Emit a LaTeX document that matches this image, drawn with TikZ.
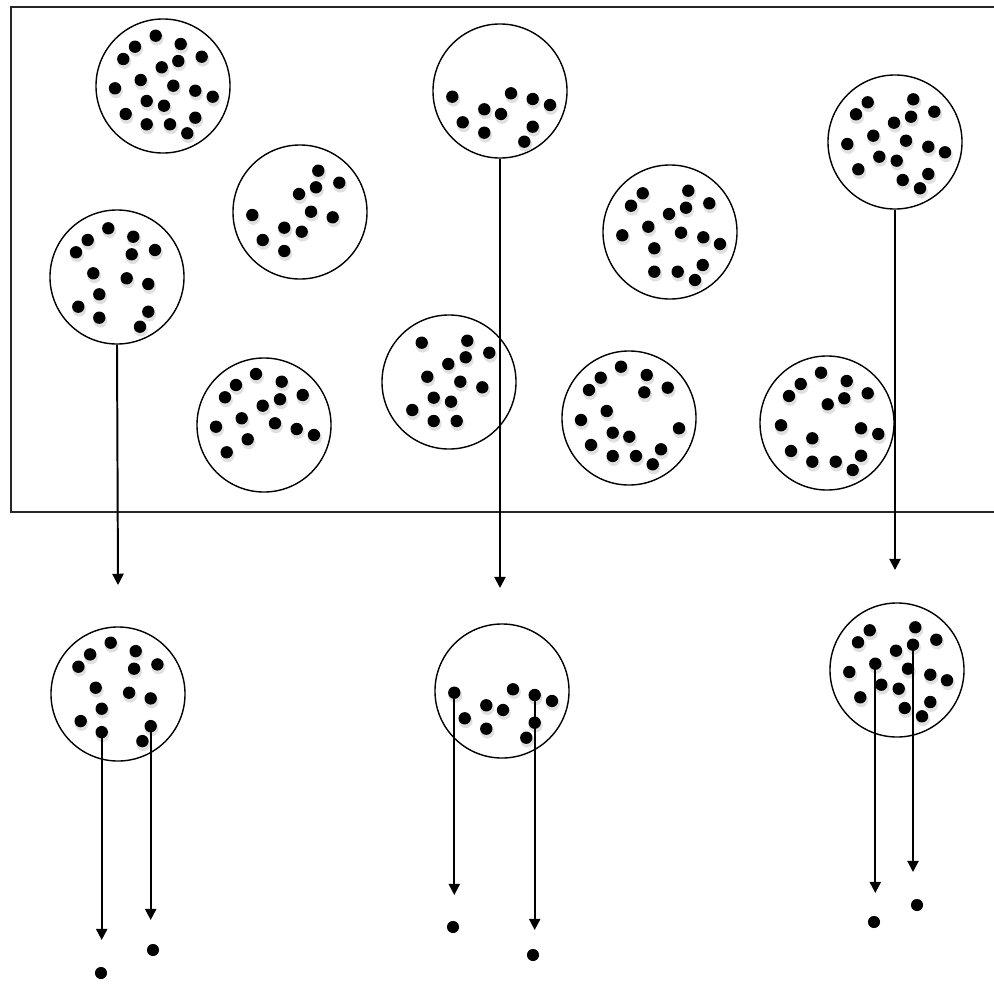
\documentclass[tikz,border=0pt]{standalone}
\usepackage{tikz}
\usetikzlibrary{positioning,arrows.meta,calc}

\begin{document}
\begin{tikzpicture}[
    x=0.025cm, y=-0.025cm,
    >={Triangle[length=8pt,width=8pt]},
    frame/.style = {draw=black!85, line width=1pt},
    blob/.style  = {circle, draw=black, line width=1pt, minimum size=3.35cm,
                    inner sep=0pt},
    dot/.style   = {fill=black},
    shade/.style = {fill=black!12},
    lone/.style  = {circle, fill=black, minimum size=8.6pt, inner sep=0pt},
    arr/.style   = {->, line width=1.4pt, draw=black},
]
\useasboundingbox (0,0) rectangle (994,986);

% =============================== the whole population ========================
\draw[frame] (1000,7) -- (11,7) -- (11,512) -- (1000,512);

\node[blob] (c1)  at (163,86)   {};
\node[blob] (c2)  at (300,212)  {};
\node[blob] (c3)  at (117,277)  {};
\node[blob] (c4)  at (264,425)  {};
\node[blob] (c5)  at (500,91)   {};
\node[blob] (c6)  at (449,382)  {};
\node[blob] (c7)  at (670,232)  {};
\node[blob] (c8)  at (629,418)  {};
\node[blob] (c9)  at (895,142)  {};
\node[blob] (c10) at (827,423)  {};

% members of each cluster
\foreach \x/\y in {155.7/35.7, 135/46.7, 180.7/44, 123.3/59, 178.3/61, 201.7/56.7,
                   161.7/67.3, 140.7/80, 115/88.3, 173.3/85.7, 195.3/90.7, 212.7/96.7,
                   146.7/101, 164/105.7, 125.7/114, 146.7/124.3, 170/124.3,
                   195.3/117.7, 187.3/133.3} {
    \fill[shade] (\x+1,\y+3) circle (4.9pt);
    \fill[dot] (\x,\y) circle (4.4pt);
}
\foreach \x/\y in {318.3/170.7, 339.3/182.7, 299/194, 316/187.3, 252.3/215,
                   311/211.7, 332.7/217.3, 284.3/227.7, 301.7/231.7, 262.7/240,
                   284.3/251} {
    \fill[shade] (\x+1,\y+3) circle (4.9pt);
    \fill[dot] (\x,\y) circle (4.4pt);
}
\foreach \x/\y in {108.3/228.3, 87.7/240, 133.3/236.7, 76/252.3, 131.7/254.3,
                   155/250, 93.3/273.3, 126.7/278.3, 148.3/284, 99.3/294.3,
                   78.3/306.7, 99.3/317.7, 148.3/311.7, 140/326.7} {
    \fill[shade] (\x+1,\y+3) circle (4.9pt);
    \fill[dot] (\x,\y) circle (4.4pt);
}
\foreach \x/\y in {256/374, 236/385, 281.7/381.7, 225/397.3, 280/399.3, 302.7/395,
                   262.7/405.7, 241.7/418.3, 216/426.7, 275/423.3, 296.7/429,
                   314/435, 247.7/439.3, 226.7/452.3} {
    \fill[shade] (\x+1,\y+3) circle (4.9pt);
    \fill[dot] (\x,\y) circle (4.4pt);
}
\foreach \x/\y in {452.3/96.7, 511/93.3, 532.7/99, 550/105, 484.3/109.3, 501/114,
                   462.7/122.3, 532.7/126.7, 484.3/132.7, 524.3/141.7} {
    \fill[shade] (\x+1,\y+3) circle (4.9pt);
    \fill[dot] (\x,\y) circle (4.4pt);
}
\foreach \x/\y in {421.7/342.7, 467.3/340.7, 489.3/352.7, 448.3/364, 465.7/357.3,
                   427.3/376.7, 460.3/381.7, 482.3/387.3, 433.7/397.7, 451/401.7,
                   412.3/410, 433.7/421, 456.7/421} {
    \fill[shade] (\x+1,\y+3) circle (4.9pt);
    \fill[dot] (\x,\y) circle (4.4pt);
}
\foreach \x/\y in {642.7/193.3, 688.3/190.7, 631/205.7, 686/207.7, 709.3/203.3,
                   669/214, 648.3/226.7, 622.3/235.3, 681/232.7, 703.3/237.3,
                   720/244, 654.3/248.3, 702.7/265, 654.3/271.7, 677.7/271.7,
                   695/280} {
    \fill[shade] (\x+1,\y+3) circle (4.9pt);
    \fill[dot] (\x,\y) circle (4.4pt);
}
\foreach \x/\y in {621/366.7, 600.7/377.7, 646.7/375, 589/390, 644.3/392.3,
                   667.7/387.7, 606.7/411, 581/420, 679/428.3, 612.7/432.7,
                   629.3/436.7, 591/445, 661/449.3, 612.7/456, 636/456,
                   652.7/464.3} {
    \fill[shade] (\x+1,\y+3) circle (4.9pt);
    \fill[dot] (\x,\y) circle (4.4pt);
}
\foreach \x/\y in {867.7/102.3, 913.3/99.3, 856/114.3, 911/116.7, 934.3/111.7,
                   894/122.7, 873.3/135.7, 847.3/144, 906/140.7, 928.3/146.7,
                   945/152.3, 879.3/156.7, 896.7/160.7, 858.3/169.3, 928.3/174,
                   902.7/180, 920/188.3} {
    \fill[shade] (\x+1,\y+3) circle (4.9pt);
    \fill[dot] (\x,\y) circle (4.4pt);
}
\foreach \x/\y in {821/372.7, 800.7/384, 846.7/381, 789/396, 844.3/398.3,
                   867.7/393.3, 827.7/404.3, 781/425.3, 861/428.3, 878.3/434,
                   812.3/438.3, 791/451, 861/455.7, 812.3/461.7, 835.7/461.7,
                   852.7/470} {
    \fill[shade] (\x+1,\y+3) circle (4.9pt);
    \fill[dot] (\x,\y) circle (4.4pt);
}

% =============================== sampled clusters ============================
\node[blob] (b3) at (118,694) {};
\node[blob] (b5) at (502,691) {};
\node[blob] (b9) at (897,670) {};

\coordinate (t3) at (118,585);
\coordinate (t5) at (500,588);
\coordinate (t9) at (895,570);
\draw[arr] (c3.south) -- (t3);
\draw[arr] (c5.south) -- (t5);
\draw[arr] (c9.south) -- (t9);

\begin{scope}[shift={(2.4,414.4)}]
  \foreach \x/\y in {108.3/228.3, 87.7/240, 133.3/236.7, 76/252.3, 131.7/254.3,
                     155/250, 93.3/273.3, 126.7/278.3, 148.3/284, 99.3/294.3,
                     78.3/306.7, 99.3/317.7, 148.3/311.7, 140/326.7} {
      \fill[shade] (\x+1,\y+3) circle (4.9pt);
      \fill[dot] (\x,\y) circle (4.4pt);
  }
  \coordinate (d3a) at (99.3,317.7);
  \coordinate (d3b) at (148.3,311.7);
\end{scope}
\begin{scope}[shift={(2,596)}]
  \foreach \x/\y in {452.3/96.7, 511/93.3, 532.7/99, 550/105, 484.3/109.3, 501/114,
                     462.7/122.3, 532.7/126.7, 484.3/132.7, 524.3/141.7} {
      \fill[shade] (\x+1,\y+3) circle (4.9pt);
      \fill[dot] (\x,\y) circle (4.4pt);
  }
  \coordinate (d5a) at (452.3,96.7);
  \coordinate (d5b) at (532.7,99);
\end{scope}
\begin{scope}[shift={(2,528)}]
  \foreach \x/\y in {867.7/102.3, 913.3/99.3, 856/114.3, 911/116.7, 934.3/111.7,
                     894/122.7, 873.3/135.7, 847.3/144, 906/140.7, 928.3/146.7,
                     945/152.3, 879.3/156.7, 896.7/160.7, 858.3/169.3, 928.3/174,
                     902.7/180, 920/188.3} {
      \fill[shade] (\x+1,\y+3) circle (4.9pt);
      \fill[dot] (\x,\y) circle (4.4pt);
  }
  \coordinate (d9a) at (873.3,135.7);
  \coordinate (d9b) at (911,116.7);
\end{scope}

% =============================== sampled members =============================
\node[lone] (p3a) at (101,973) {};
\node[lone] (p3b) at (153,950) {};
\node[lone] (p5a) at (453,927) {};
\node[lone] (p5b) at (533,955) {};
\node[lone] (p9a) at (874,922) {};
\node[lone] (p9b) at (917,905) {};

\draw[arr] (d3a) -- (d3a |- 0,940);
\draw[arr] (d3b) -- (d3b |- 0,920);
\draw[arr] (d5a) -- (d5a |- 0,895);
\draw[arr] (d5b) -- (d5b |- 0,930);
\draw[arr] (d9a) -- (d9a |- 0,893);
\draw[arr] (d9b) -- (d9b |- 0,872);

\end{tikzpicture}
\end{document}
